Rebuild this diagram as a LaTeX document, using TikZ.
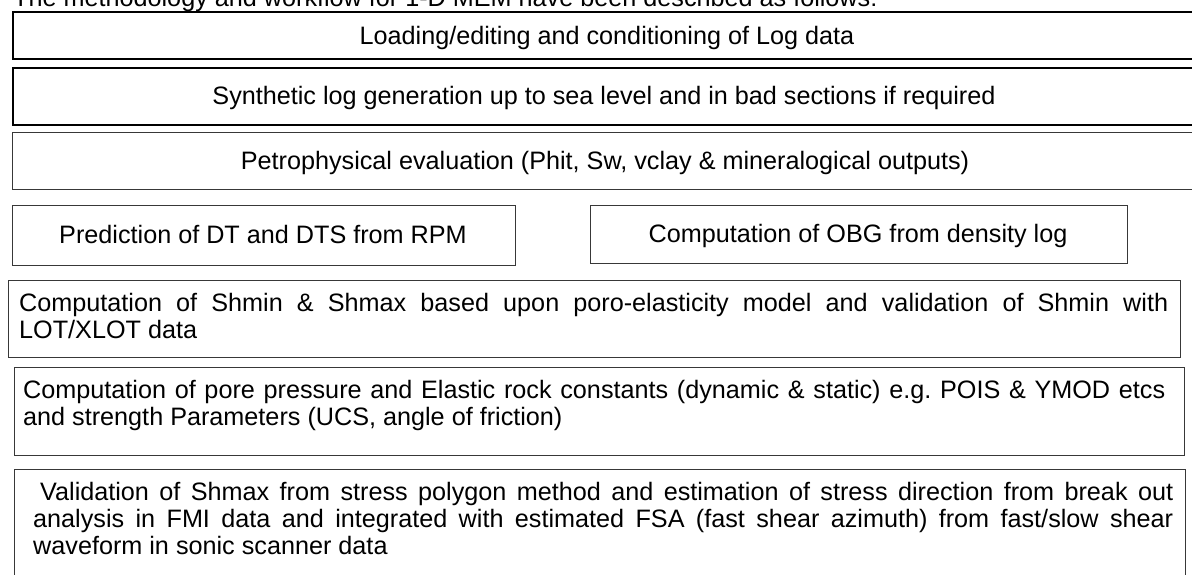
\documentclass[tikz,border=0pt]{standalone}
\usepackage{fontspec}
\setmainfont{Liberation Sans}
\hyphenpenalty=10000
\exhyphenpenalty=10000
\frenchspacing
\begin{document}
\begin{tikzpicture}[x=1pt,y=-1pt,
  every node/.style={font=\fontsize{25.2}{27}\selectfont},
  heavybox/.style={draw=black, line width=2pt, inner sep=0pt, anchor=north west},
  lightbox/.style={draw=black!78, line width=1.4pt, inner sep=0pt, anchor=north west},
  onelabel/.style={inner sep=0pt, anchor=base},
  para/.style={inner sep=0pt, anchor=base west, align=justify}]
\useasboundingbox (0,0) rectangle (1192,574);
% title (cut at top)
\node[inner sep=0pt, anchor=base west] (title) at (13,6) {The methodology and workflow for 1-D MEM have been described as follows:};
% boxes
\node[heavybox, minimum width=1200pt, minimum height=47pt] (b1) at (12,11) {};
\node[heavybox, minimum width=1200pt, minimum height=57pt] (b2) at (12,67) {};
\node[lightbox, minimum width=1200pt, minimum height=57pt] (b3) at (12,132) {};
\node[lightbox, minimum width=503pt, minimum height=60pt] (b4) at (12,205) {};
\node[lightbox, minimum width=537pt, minimum height=58pt] (b5) at (590,205) {};
\node[lightbox, minimum width=1172pt, minimum height=77pt] (b6) at (8,280) {};
\node[lightbox, minimum width=1170pt, minimum height=88pt] (b7) at (14,367) {};
\node[lightbox, minimum width=1171pt, minimum height=130pt] (b8) at (14,469) {};
% texts
\node[onelabel] (t1) at (607,44) {Loading/editing and conditioning of Log data};
\node[onelabel] (t2) at (604,104) {Synthetic log generation up to sea level and in bad sections if required};
\node[onelabel] (t3) at (605,169) {Petrophysical evaluation (Phit, Sw, vclay \& mineralogical outputs)};
\node[onelabel] (t4) at (263,243) {Prediction of DT and DTS from RPM};
\node[onelabel] (t5) at (858,242) {Computation of OBG from density log};
\node[para, text width=1149pt] (t6) at (19,311) {Computation of Shmin \& Shmax based upon poro-elasticity model and validation of Shmin with\linebreak LOT/XLOT data};
\node[para, text width=1142pt] (t7) at (23,398) {Computation of pore pressure and Elastic rock constants (dynamic \& static) e.g.\ POIS \& YMOD etcs\linebreak and strength Parameters (UCS, angle of friction)};
\node[para, text width=1140pt] (t8) at (33,500) {\hspace*{0.278em}Validation of Shmax from stress polygon method and estimation of stress direction from break out\linebreak analysis in FMI data and integrated with estimated FSA (fast shear azimuth) from fast/slow shear\linebreak waveform in sonic scanner data};
\end{tikzpicture}
\end{document}
